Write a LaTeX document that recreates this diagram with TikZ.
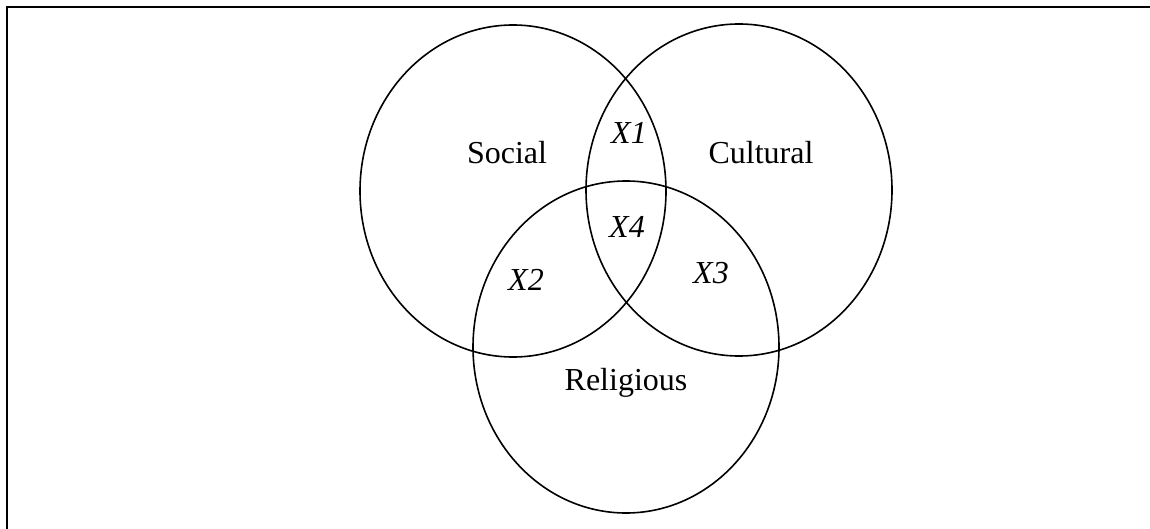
\documentclass[tikz,border=0pt]{standalone}
\usepackage{fontspec}
\setmainfont{Liberation Serif}
\usetikzlibrary{shapes.geometric}

\begin{document}
\begin{tikzpicture}[x=1pt,y=-1pt,
    setring/.style={draw, ellipse, line width=1.6pt, inner sep=0pt,
        minimum width=306pt, minimum height=332pt},
    setlabel/.style={font=\fontsize{32}{38}\selectfont},
    zonelabel/.style={font=\fontsize{32}{38}\selectfont\itshape}]

\useasboundingbox (0,0) rectangle (1150,529);

% frame (top and left only)
\coordinate (frametop) at (1150,7);
\coordinate (framecorner) at (7,7);
\coordinate (framebottom) at (7,529);
\draw[line width=2pt] (frametop) -- (framecorner) -- (framebottom);

% the three sets
\node[setring] (social) at (513,191) {};
\node[setring] (cultural) at (739,190) {};
\node[setring] (religious) at (626,347) {};

\node[setlabel] (sociallbl) at (507,153) {Social};
\node[setlabel] (culturallbl) at (761,153) {Cultural};
\node[setlabel] (religiouslbl) at (626,383) {Religious};

% overlaps
\foreach \name/\txt/\px/\py in {xone/X1/629/133, xfour/X4/627/227, xtwo/X2/526/280, xthree/X3/711/273} {
    \node[zonelabel] (\name) at (\px,\py) {\txt};
}

\end{tikzpicture}
\end{document}
